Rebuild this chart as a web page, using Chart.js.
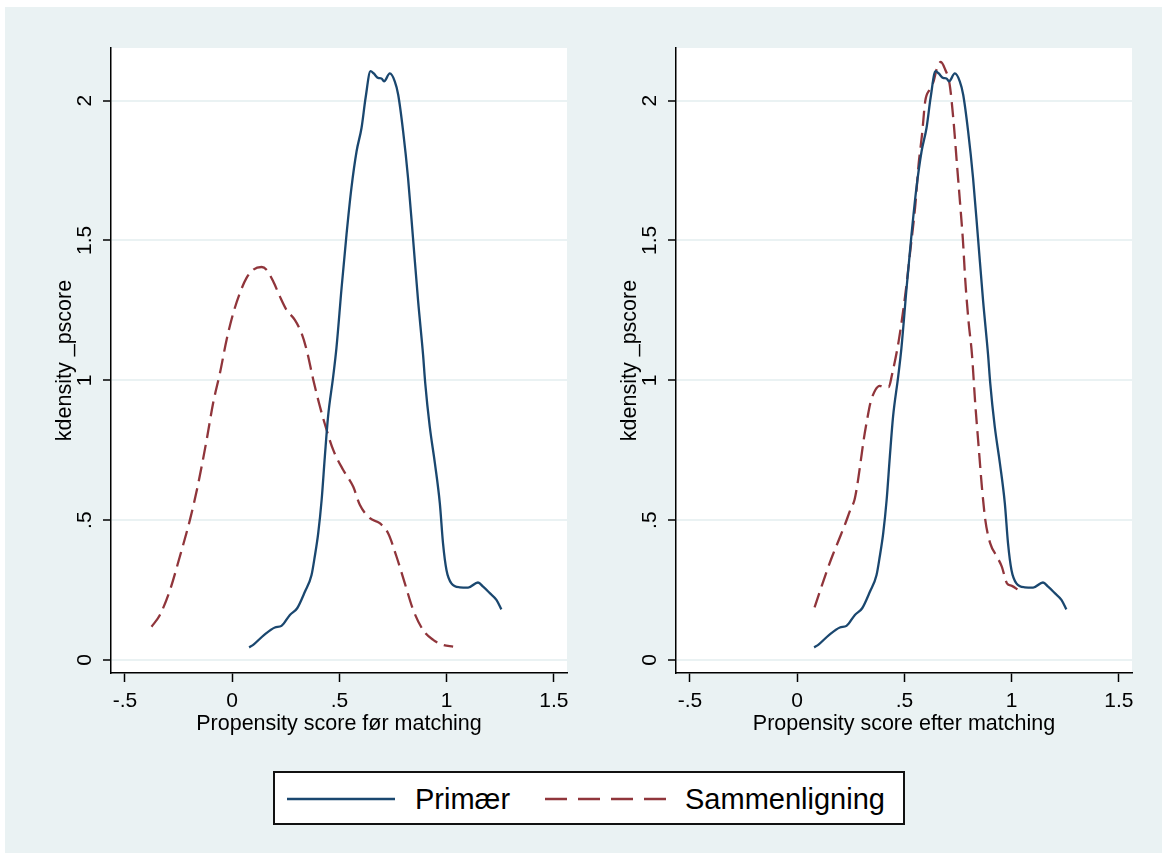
<!DOCTYPE html>
<html lang="da">
<head>
  <meta charset="UTF-8" />
  <title>kdensity _pscore</title>
  <script src="https://cdn.jsdelivr.net/npm/chart.js"></script>
  <style>
    body {
      margin: 0;
      width: 1167px;
      height: 859px;
      background: #fff;
      position: relative;
      overflow: hidden;
      font-family: 'Liberation Sans', Arial, sans-serif;
    }
    #bg {
      position: absolute;
      left: 5px;
      top: 7px;
      width: 1157px;
      height: 846px;
      background: #eaf2f3;
    }
    .panel {
      position: absolute;
      top: 0;
      width: 590px;
      height: 760px;
    }
    #legend {
      position: absolute;
      left: 273px;
      top: 771px;
      width: 632px;
      height: 54px;
      box-sizing: border-box;
      border: 2px solid #111;
      background: #fff;
    }
    #legend svg { position: absolute; top: 0; left: 0; }
    #legend span {
      position: absolute;
      top: 0;
      line-height: 52px;
      font-size: 29px;
      color: #000;
    }
  </style>
</head>
<body>
  <div id="bg"></div>
  <div class="panel" style="left:0px"><canvas id="before"></canvas></div>
  <div class="panel" style="left:565px"><canvas id="after"></canvas></div>
  <div id="legend">
    <svg width="628" height="50">
      <line x1="12" y1="26" x2="120" y2="26" stroke="#1a476f" stroke-width="2.4" />
      <line x1="270" y1="26" x2="392" y2="26" stroke="#90353b" stroke-width="2.4" stroke-dasharray="22 11" />
    </svg>
    <span style="left:140px">Primær</span>
    <span style="left:410px">Sammenligning</span>
  </div>

  <script>
    // Primær (same curve in both panels)
    const primX = [0.079, 0.098, 0.148, 0.199, 0.230, 0.269, 0.303, 0.339, 0.370, 0.385, 0.401, 0.417, 0.432, 0.447, 0.471, 0.486, 0.510, 0.533, 0.556, 0.580, 0.603, 0.622, 0.645, 0.660, 0.680, 0.696, 0.708, 0.735, 0.758, 0.774, 0.797, 0.820, 0.843, 0.867, 0.890, 0.900, 0.921, 0.945, 0.968, 0.983, 0.999, 1.022, 1.061, 1.100, 1.146, 1.170, 1.201, 1.232, 1.255];
    const primY = [0.045, 0.054, 0.089, 0.116, 0.122, 0.161, 0.185, 0.244, 0.304, 0.370, 0.453, 0.572, 0.727, 0.870, 1.014, 1.115, 1.330, 1.521, 1.688, 1.819, 1.902, 2.010, 2.105, 2.097, 2.081, 2.079, 2.069, 2.097, 2.069, 2.021, 1.890, 1.723, 1.509, 1.282, 1.091, 0.990, 0.835, 0.704, 0.561, 0.417, 0.322, 0.274, 0.260, 0.259, 0.277, 0.262, 0.239, 0.215, 0.181];

    // Sammenligning før matching
    const compBeforeX = [-0.376, -0.337, -0.290, -0.244, -0.197, -0.158, -0.119, -0.089, -0.057, -0.026, 0.005, 0.036, 0.067, 0.098, 0.137, 0.160, 0.191, 0.222, 0.253, 0.292, 0.323, 0.347, 0.378, 0.409, 0.440, 0.471, 0.517, 0.564, 0.595, 0.642, 0.688, 0.727, 0.766, 0.805, 0.844, 0.890, 0.937, 0.983, 1.030];
    const compBeforeY = [0.119, 0.161, 0.250, 0.370, 0.501, 0.632, 0.787, 0.918, 1.026, 1.145, 1.240, 1.312, 1.366, 1.395, 1.405, 1.395, 1.354, 1.300, 1.252, 1.216, 1.169, 1.109, 1.002, 0.906, 0.823, 0.751, 0.680, 0.620, 0.555, 0.507, 0.489, 0.453, 0.370, 0.274, 0.179, 0.107, 0.072, 0.054, 0.048];

    // Sammenligning efter matching
    const compAfterX = [0.081, 0.108, 0.140, 0.163, 0.194, 0.225, 0.248, 0.267, 0.279, 0.295, 0.310, 0.326, 0.341, 0.365, 0.385, 0.403, 0.427, 0.442, 0.473, 0.504, 0.527, 0.551, 0.566, 0.582, 0.597, 0.617, 0.636, 0.652, 0.670, 0.690, 0.711, 0.729, 0.745, 0.760, 0.773, 0.784, 0.799, 0.815, 0.830, 0.846, 0.861, 0.877, 0.900, 0.931, 0.954, 0.978, 1.001, 1.032];
    const compAfterY = [0.188, 0.250, 0.322, 0.370, 0.429, 0.489, 0.537, 0.572, 0.620, 0.704, 0.787, 0.859, 0.918, 0.966, 0.980, 0.976, 0.976, 1.020, 1.139, 1.306, 1.461, 1.628, 1.771, 1.878, 1.998, 2.039, 2.069, 2.117, 2.138, 2.111, 2.057, 1.926, 1.771, 1.628, 1.497, 1.354, 1.210, 1.091, 0.918, 0.763, 0.620, 0.501, 0.417, 0.370, 0.334, 0.274, 0.265, 0.250];

    const xTicks = [-0.5, 0, 0.5, 1, 1.5];
    const xTickLabels = ['-.5', '0', '.5', '1', '1.5'];
    const yTicks = [0, 0.5, 1, 1.5, 2];
    const yTickLabels = ['0', '.5', '1', '1.5', '2'];
    const yTitle = 'kdensity _pscore';

    Chart.defaults.font.family = "'Liberation Sans', Arial, sans-serif";
    Chart.defaults.color = '#000';

    const plotBg = {
      id: 'plotBg',
      beforeDraw(chart) {
        const { ctx, chartArea: a } = chart;
        ctx.save();
        ctx.fillStyle = '#ffffff';
        ctx.fillRect(a.left, a.top, a.right - a.left, a.bottom - a.top);
        ctx.restore();
      }
    };

    const pts = (xs, ys) => xs.map((x, i) => ({ x: x, y: ys[i] }));

    function drawPanel(id, compX, compY, xTitle) {
      new Chart(document.getElementById(id), {
        type: 'line',
        data: {
          datasets: [
            {
              label: 'Primær',
              data: pts(primX, primY),
              borderColor: '#1a476f',
              borderWidth: 2.3,
              pointRadius: 0,
              cubicInterpolationMode: 'monotone',
              fill: false
            },
            {
              label: 'Sammenligning',
              data: pts(compX, compY),
              borderColor: '#90353b',
              borderWidth: 2.3,
              borderDash: [15, 7],
              pointRadius: 0,
              cubicInterpolationMode: 'monotone',
              fill: false
            }
          ]
        },
        options: {
          responsive: true,
          maintainAspectRatio: false,
          animation: false,
          layout: { padding: { top: 48, right: 23, left: 0, bottom: 0 } },
          plugins: {
            legend: { display: false },
            tooltip: { enabled: false }
          },
          scales: {
            x: {
              type: 'linear',
              min: -0.565,
              max: 1.561,
              afterBuildTicks: s => { s.ticks = xTicks.map(v => ({ value: v })); },
              afterFit: s => { s.height = 87; },
              ticks: {
                autoSkip: false,
                maxRotation: 0,
                padding: 7,
                font: { size: 21 },
                callback: (v, i) => xTickLabels[i]
              },
              grid: {
                drawOnChartArea: false,
                tickColor: '#000',
                tickLength: 9,
                tickWidth: 1.5
              },
              border: { display: true, color: '#000', width: 1.5 },
              title: {
                display: true,
                text: xTitle,
                font: { size: 21.5 },
                padding: { top: 0, bottom: 23 }
              }
            },
            y: {
              type: 'linear',
              min: -0.0465,
              max: 2.188,
              afterBuildTicks: s => { s.ticks = yTicks.map(v => ({ value: v })); },
              afterFit: s => { s.width = 111; },
              ticks: {
                autoSkip: false,
                minRotation: 90,
                maxRotation: 90,
                crossAlign: 'center',
                padding: 3,
                font: { size: 21 },
                callback: (v, i) => yTickLabels[i]
              },
              grid: {
                color: '#eaf2f3',
                lineWidth: 2,
                tickColor: '#000',
                tickLength: 8,
                tickWidth: 1.5
              },
              border: { display: true, color: '#000', width: 1.5 },
              title: {
                display: true,
                text: yTitle,
                font: { size: 21.5 },
                padding: { top: 52, bottom: 0 }
              }
            }
          }
        },
        plugins: [plotBg]
      });
    }

    drawPanel('before', compBeforeX, compBeforeY, 'Propensity score før matching');
    drawPanel('after', compAfterX, compAfterY, 'Propensity score efter matching');
  </script>
</body>
</html>
